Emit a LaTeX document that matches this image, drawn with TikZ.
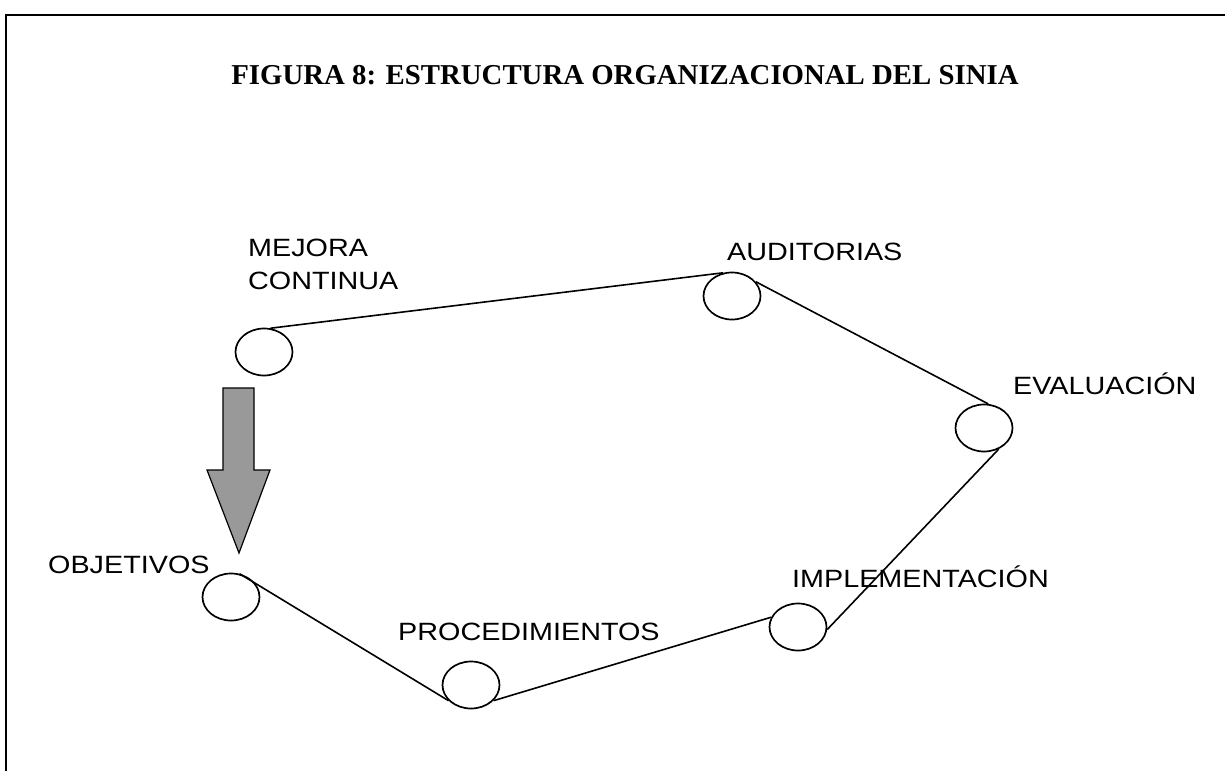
\documentclass[tikz,border=0pt]{standalone}
\usepackage{fontspec}
\setmainfont{Liberation Serif}
\newfontfamily\lblfont[FakeStretch=1.15]{Liberation Sans}
\usetikzlibrary{shapes.geometric}
\tikzset{
  stage/.style={ellipse, draw, line width=1.7pt, minimum width=57pt, minimum height=47pt, inner sep=0pt},
  lbl/.style={font=\lblfont\fontsize{25}{30}\selectfont, inner sep=0pt, anchor=west, align=left},
  edge/.style={line width=1.6pt},
}
\begin{document}
\begin{tikzpicture}[x=1pt,y=-1pt]
\useasboundingbox (0,0) rectangle (1225,771);
\fill[white] (0,0) rectangle (1225,771);
% frame
\draw[line width=2.4pt] (5,15) -- (1225,15);
\draw[line width=1.6pt] (6,15) -- (6,771);
% title
\node[font=\bfseries\fontsize{28.8}{32}\selectfont, inner sep=0pt] (title) at (625,75) {FIGURA 8: ESTRUCTURA ORGANIZACIONAL DEL SINIA};
% stages
\node[stage] (mej) at (264,352) {};
\node[stage] (aud) at (732,296) {};
\node[stage] (eva) at (984,428) {};
\node[stage] (imp) at (798,627) {};
\node[stage] (pro) at (471,685) {};
\node[stage] (obj) at (231,597) {};
% connectors
\draw[edge] (mej.75) -- (aud.111);
\draw[edge] (aud.31) -- (eva.80);
\draw[edge] (eva.-55) -- (imp.-5);
\draw[edge] (imp.160) -- (pro.-35);
\draw[edge] (pro.-145) -- (obj.70);
% labels
\node[lbl] (lmej) at (248,264) {MEJORA\\[3pt]CONTINUA};
\node[lbl] (laud) at (727,252) {AUDITORIAS};
\node[lbl] (leva) at (1013,384) {EVALUACIÓN};
\node[lbl] (limp) at (792,577) {IMPLEMENTACIÓN};
\node[lbl] (lpro) at (398,632) {PROCEDIMIENTOS};
\node[lbl] (lobj) at (48,565) {OBJETIVOS};
% big arrow
\draw[line width=1.2pt, fill=black!40] (223,388) -- (254,388) -- (254,470) -- (270,470) -- (239,553) -- (207,470) -- (223,470) -- cycle;
\end{tikzpicture}
\end{document}
